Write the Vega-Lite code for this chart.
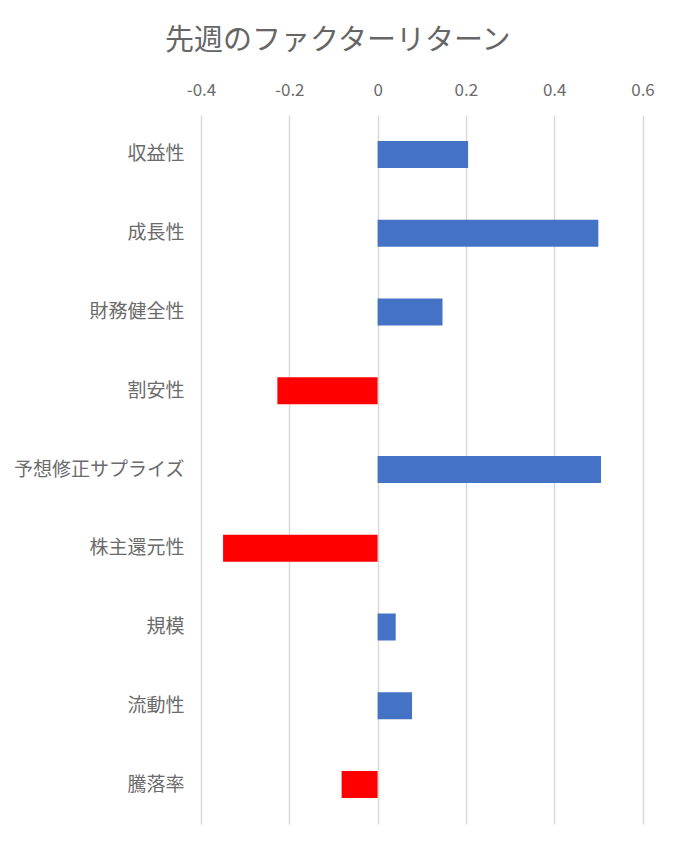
{
  "$schema": "https://vega.github.io/schema/vega-lite/v6.json",
  "autosize": {"type": "none"},
  "padding": {"left": 201, "top": 115, "right": 37, "bottom": 24},
  "width": 441.5,
  "height": 709,
  "background": "white",
  "title": {
    "text": "先週のファクターリターン",
    "font": "Noto Sans CJK JP",
    "fontSize": 29,
    "fontWeight": "normal",
    "color": "#666666",
    "anchor": "middle",
    "dx": -84,
    "offset": 25
  },
  "data": {
    "values": [
      {"factor": "収益性", "value": 0.205},
      {"factor": "成長性", "value": 0.500},
      {"factor": "財務健全性", "value": 0.147},
      {"factor": "割安性", "value": -0.227},
      {"factor": "予想修正サプライズ", "value": 0.506},
      {"factor": "株主還元性", "value": -0.350},
      {"factor": "規模", "value": 0.041},
      {"factor": "流動性", "value": 0.078},
      {"factor": "騰落率", "value": -0.0815}
    ]
  },
  "mark": {"type": "bar"},
  "encoding": {
    "y": {
      "field": "factor",
      "type": "nominal",
      "sort": null,
      "title": null,
      "scale": {"paddingInner": 0.657, "paddingOuter": 0.33},
      "axis": {
        "domain": false,
        "ticks": false,
        "grid": false,
        "labelPadding": 17,
        "labelFont": "Noto Sans CJK JP",
        "labelFontSize": 19,
        "labelColor": "#6b6b6b"
      }
    },
    "x": {
      "field": "value",
      "type": "quantitative",
      "title": null,
      "scale": {"domain": [-0.4, 0.6], "nice": false, "zero": false},
      "axis": {
        "orient": "top",
        "values": [-0.4, -0.2, 0, 0.2, 0.4, 0.6],
        "labelExpr": "datum.value + ''",
        "labelFlush": false,
        "domain": false,
        "ticks": false,
        "grid": true,
        "gridColor": "#d9d9d9",
        "gridWidth": 1.5,
        "labelPadding": 16,
        "labelFont": "Noto Sans CJK JP",
        "labelFontSize": 17,
        "labelColor": "#6b6b6b"
      }
    },
    "color": {
      "condition": {"test": "datum.value < 0", "value": "#FF0000"},
      "value": "#4472C4"
    }
  },
  "config": {
    "view": {"stroke": null}
  }
}
